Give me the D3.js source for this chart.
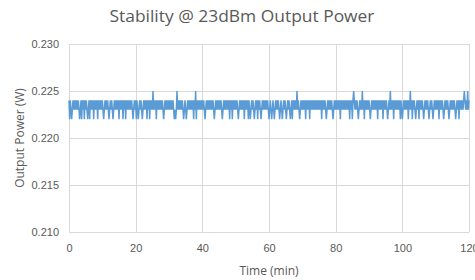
<!DOCTYPE html>
<html lang="en">
<head>
<meta charset="UTF-8">
<title>Stability @ 23dBm Output Power</title>
<script src="https://cdn.jsdelivr.net/npm/d3@7"></script>
<style>
  body { margin: 0; background: #fff; }
  svg { font-family: 'Open Sans', 'Noto Sans', sans-serif; }
  .grid line { stroke: #d9d9d9; stroke-width: 1; shape-rendering: crispEdges; }
  .tick text { fill: #595959; font-size: 11px; }
</style>
</head>
<body>
<svg id="chart" width="475" height="280"></svg>
<script>
// time axis: one sample every 0.2 min, 0..120 min
var SAMPLE_STEP = 0.2;
var xTicks = [0, 20, 40, 60, 80, 100, 120];
var yTicks = [0.210, 0.215, 0.220, 0.225, 0.230];

// one digit per sample, 10 samples (2 min) per string:
// output power in mW minus 220 (2 -> 0.222 W, 3 -> 0.223 W, 4 -> 0.224 W, 5 -> 0.225 W)
var levelGroups = [
  "4243234343", "4343432342", "4342434323", "4243434243", "4342434343", "4323434343",
  "2343432343", "4343424343", "4243424343", "4343432343", "4243234343", "2343434243",
  "4243435343", "4243434343", "4323434343", "4343434323", "2353434343", "4323432343",
  "4343434243", "5243434343", "4343234343", "4343434323", "4343434343", "2343434343",
  "4243424343", "4343234343", "4342434342", "4323434323", "4342434323", "4343434343",
  "2343234323", "4343432343", "2343432343", "4323424343", "4353432343", "4343424343",
  "4243434343", "4343434342", "4343432343", "4343432343", "4343434243", "4343434343",
  "4243424543", "4343234343", "5342434343", "4323434343", "4342434343", "4243434323",
  "4353434243", "4343434243", "2343434342", "4353424343", "2343424343", "4323434343",
  "2343432343", "4343424343", "4323434343", "2343434343", "2343424343", "4345434353",
  "4"
];

var margin = {left: 69, right: 6, top: 44, bottom: 48};
var W = 475, H = 280;

var svg = d3.select("#chart");

var x = d3.scaleLinear().domain([0, 120]).range([margin.left, W - margin.right]);
var y = d3.scaleLinear().domain([0.210, 0.230]).range([H - margin.bottom, margin.top]);

// build samples from the groups
var digits = levelGroups.join("");
var data = [];
for (var i = 0; i < digits.length; i++) {
  data.push({t: i * SAMPLE_STEP, p: (220 + +digits[i]) / 1000});
}

// horizontal grid
svg.append("g").attr("class", "grid")
  .selectAll("line").data(yTicks).enter().append("line")
  .attr("x1", x(0)).attr("x2", x(120))
  .attr("y1", function (d) { return Math.round(y(d)) + 0.5; })
  .attr("y2", function (d) { return Math.round(y(d)) + 0.5; });

// vertical grid
svg.append("g").attr("class", "grid")
  .selectAll("line").data(xTicks).enter().append("line")
  .attr("y1", y(0.210)).attr("y2", y(0.230))
  .attr("x1", function (d) { return Math.round(x(d)) + 0.5; })
  .attr("x2", function (d) { return Math.round(x(d)) + 0.5; });

// y axis labels
var yAxis = svg.append("g")
  .attr("transform", "translate(" + margin.left + ",0)")
  .call(d3.axisLeft(y).tickValues(yTicks).tickFormat(d3.format(".3f")).tickSize(0).tickPadding(10));
yAxis.select(".domain").remove();

// x axis labels
var xAxis = svg.append("g")
  .attr("transform", "translate(0," + y(0.210) + ")")
  .call(d3.axisBottom(x).tickValues(xTicks).tickSize(0).tickPadding(12));
xAxis.select(".domain").remove();

// the signal
var line = d3.line()
  .x(function (d) { return x(d.t); })
  .y(function (d) { return y(d.p); });

svg.append("path")
  .datum(data)
  .attr("fill", "none")
  .attr("stroke", "#5b9bd5")
  .attr("stroke-width", 1.5)
  .attr("d", line);

// titles
svg.append("text")
  .attr("x", 242).attr("y", 22)
  .attr("text-anchor", "middle")
  .attr("fill", "#595959")
  .attr("font-size", 17)
  .attr("textLength", 265)
  .attr("lengthAdjust", "spacingAndGlyphs")
  .text("Stability @ 23dBm Output Power");

svg.append("text")
  .attr("x", x(60)).attr("y", 275)
  .attr("text-anchor", "middle")
  .attr("fill", "#595959")
  .attr("font-size", 12)
  .text("Time (min)");

svg.append("text")
  .attr("transform", "translate(24," + y(0.220) + ") rotate(-90)")
  .attr("text-anchor", "middle")
  .attr("fill", "#595959")
  .attr("font-size", 12)
  .text("Output Power (W)");
</script>
</body>
</html>
